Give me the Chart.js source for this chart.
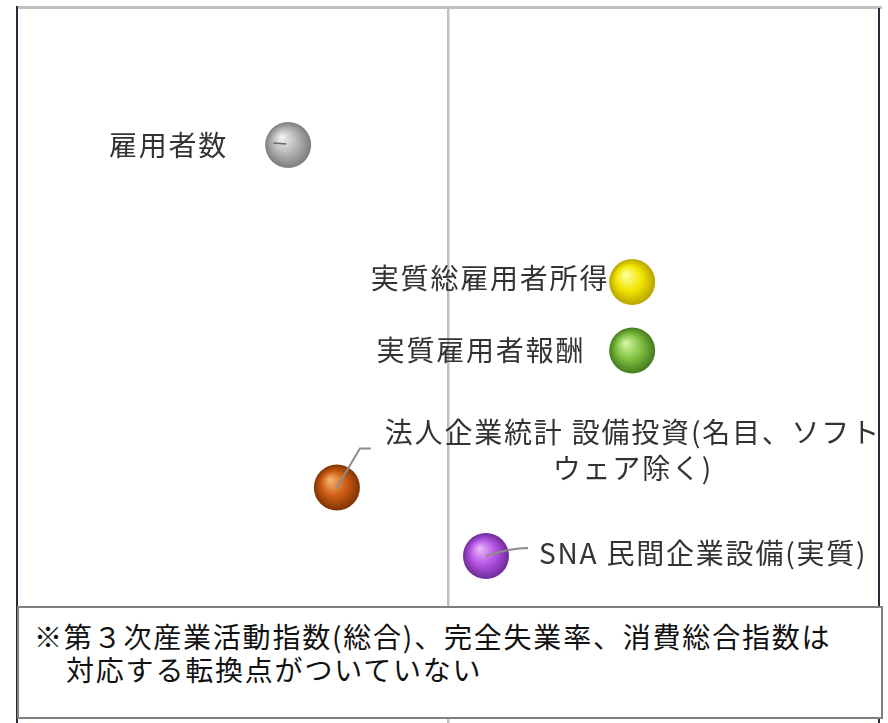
<!DOCTYPE html>
<html lang="ja">
<head>
<meta charset="utf-8">
<script src="https://cdn.jsdelivr.net/npm/chart.js@4.4.1/dist/chart.umd.min.js"></script>
<style>
  body { margin: 0; background: #fff; }
  #wrap { position: relative; width: 888px; height: 723px; }
  #note {
    position: absolute; left: 17px; top: 606px; width: 862px; height: 109px;
    border: 2px solid #808080; background: #fff;
    font-family: "Noto Sans CJK JP", "Noto Sans", sans-serif;
    font-size: 28px; line-height: 33px; color: #111; letter-spacing: 1.8px;
  }
  #note p { margin: 0; position: absolute; left: 15px; top: 12px; padding-left: 32px; text-indent: -32px; }
</style>
</head>
<body>
<div id="wrap">
  <canvas id="chart" width="888" height="723"></canvas>
  <div id="note"><p>※第３次産業活動指数(総合)、完全失業率、消費総合指数は<br>対応する転換点がついていない</p></div>
</div>
<script>
// Series (turning point lead / lag, row)
const seriesNames = [
    '雇用者数',
    '実質総雇用者所得',
    '実質雇用者報酬',
    '法人企業統計 設備投資(名目、ソフトウェア除く)',
    'SNA 民間企業設備(実質)'
];
const labelLines = [
    ['雇用者数'],
    ['実質総雇用者所得'],
    ['実質雇用者報酬'],
    ['法人企業統計 設備投資(名目、ソフト', 'ウェア除く)'],
    ['SNA 民間企業設備(実質)']
];
const leadLag = [-3.85, 4.41, 4.41, -2.68, 0.9];
const rowPos = [2, 4, 5, 7, 8];

// sphere colours: highlight, base, edge
const sphereColors = [
    ['#f6f6f6', '#b4b4b4', '#7c7c7c'],
    ['#ffffa8', '#f2e600', '#b8a400'],
    ['#d8f8aa', '#80c040', '#447a1c'],
    ['#f8b878', '#cc5c10', '#7e3206'],
    ['#eebcfc', '#b454e4', '#6e2a98']
];

// label placement relative to bubble centre
const labelLayout = [
    { dx: -60, dy: 0, align: 'right' },
    { dx: -23, dy: -4, align: 'right' },
    { dx: -47, dy: 0, align: 'right' },
    { dx: 296, dy: -55, align: 'center', gap: 36 },
    { dx: 53, dy: -3, align: 'left' }
];

const frame = {
    id: 'frame',
    beforeDatasetsDraw(chart) {
        const c = chart.ctx;
        const x0 = chart.scales.x.getPixelForValue(0);
        c.save();
        c.fillStyle = '#c0c0c0';
        c.fillRect(16, 6, 866, 3);
        c.fillRect(x0 - 1.5, 8, 2.5, 716);
        c.fillStyle = '#222e3c';
        c.fillRect(16, 6, 2, 717);
        c.fillRect(878, 8, 2, 716);
        c.restore();
    }
};

const labels = {
    id: 'labels',
    afterDatasetsDraw(chart) {
        const c = chart.ctx;
        const pts = chart.getDatasetMeta(0).data;
        c.save();
        // leader lines
        c.strokeStyle = '#8c8c8c';
        c.lineWidth = 2;
        let p = pts[3];
        c.beginPath();
        c.moveTo(p.x, p.y);
        c.lineTo(p.x + 23, p.y - 39);
        c.lineTo(p.x + 34, p.y - 39);
        c.stroke();
        p = pts[4];
        c.beginPath();
        c.moveTo(p.x, p.y);
        c.quadraticCurveTo(p.x + 24, p.y - 8, p.x + 42, p.y - 8);
        c.stroke();
        p = pts[0];
        c.strokeStyle = '#6a6a6a';
        c.lineWidth = 1.5;
        c.beginPath();
        c.moveTo(p.x - 15, p.y - 2);
        c.lineTo(p.x - 2, p.y - 1);
        c.stroke();

        c.fillStyle = '#333';
        c.font = '28px "Noto Sans CJK JP", sans-serif';
        c.letterSpacing = '1.8px';
        c.textBaseline = 'middle';
        labelLines.forEach((lines, i) => {
            const pt = pts[i];
            const lay = labelLayout[i];
            c.textAlign = lay.align;
            lines.forEach((t, k) => {
                c.fillText(t, pt.x + lay.dx, pt.y + lay.dy + k * (lay.gap || 0));
            });
        });
        c.restore();
    }
};

new Chart(document.getElementById('chart'), {
    type: 'bubble',
    data: {
        datasets: [{
            label: '転換点',
            data: leadLag.map((v, i) => ({ x: v, y: rowPos[i], r: 23 })),
            borderWidth: 0,
            backgroundColor: (ctx) => {
                const chart = ctx.chart;
                const col = sphereColors[ctx.dataIndex] || sphereColors[0];
                if (!chart.chartArea || ctx.raw === undefined) return col[1];
                const x = chart.scales.x.getPixelForValue(ctx.raw.x);
                const y = chart.scales.y.getPixelForValue(ctx.raw.y);
                const r = ctx.raw.r;
                const g = chart.ctx.createRadialGradient(x - r * 0.3, y - r * 0.35, 0, x, y, r);
                g.addColorStop(0, col[0]);
                g.addColorStop(0.55, col[1]);
                g.addColorStop(1, col[2]);
                return g;
            }
        }]
    },
    options: {
        responsive: false,
        animation: false,
        events: [],
        layout: { padding: { left: 32, right: 23, top: 23, bottom: 23 } },
        plugins: { legend: { display: false }, tooltip: { enabled: false } },
        scales: {
            x: { type: 'linear', min: -10, max: 10, display: false },
            y: { type: 'linear', min: 0.22, max: 10.1, reverse: true, display: false }
        }
    },
    plugins: [frame, labels]
});
</script>
</body>
</html>
